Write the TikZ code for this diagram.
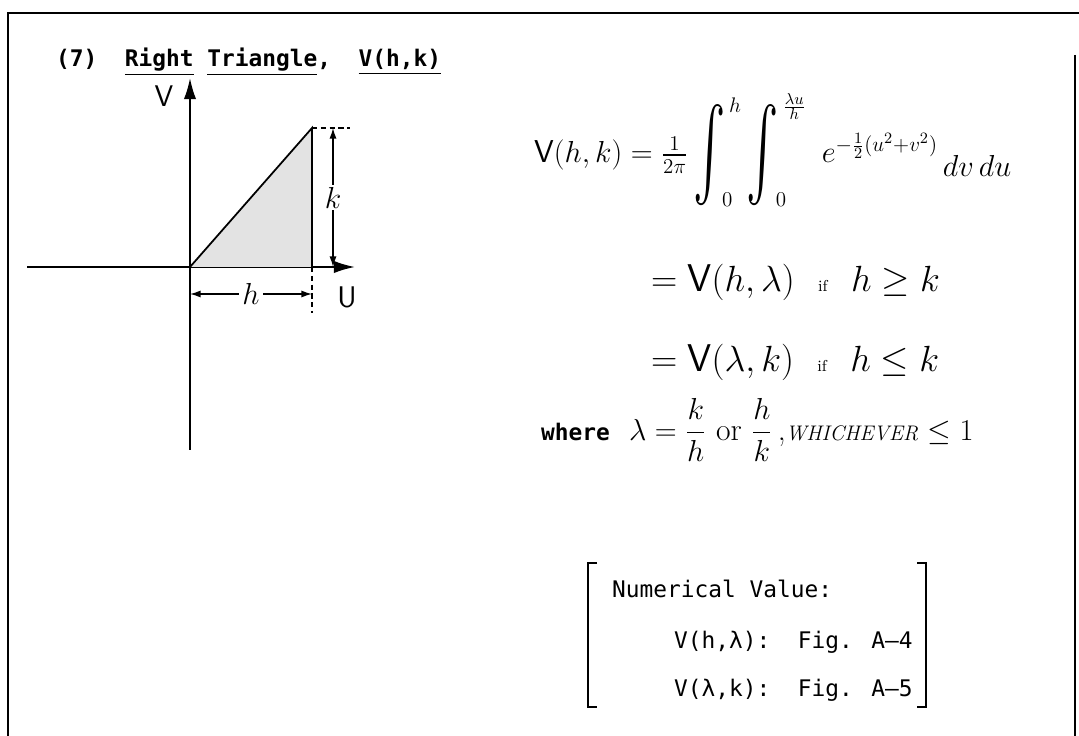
\documentclass[tikz,border=0pt]{standalone}
\usepackage{amsmath}
\usepackage{graphicx}
\usepackage{fontspec}
\newfontfamily\typefont{DejaVu Sans Mono}
\usetikzlibrary{arrows.meta}
\newcommand{\tallint}{\mathop{\vcenter{\hbox{\scalebox{1.6}[3.0]{$\int$}}}}\nolimits}
\begin{document}
\begin{tikzpicture}[x=0.02cm,y=-0.02cm,
  frame/.style={line width=1.6pt},
  axis/.style={line width=1.1pt,-{Latex[length=12pt,width=7pt]}},
  dim/.style={line width=0.8pt,{Latex[length=6pt,width=4pt]}-{Latex[length=6pt,width=4pt]}},
  tick/.style={line width=0.8pt,dash pattern=on 3pt off 2pt},
  tw/.style={font=\typefont\bfseries\fontsize{13}{15}\selectfont},
  tbox/.style={font=\typefont\fontsize{13}{15}\selectfont},
  hand/.style={font=\fontsize{22}{26}\selectfont}]
\useasboundingbox (0,0) rectangle (1079,736);
% frame
\draw[frame] (8,736) -- (8,13) -- (1079,13);
\draw[frame] (1075,55) -- (1075,736);
% title
\node[tw,anchor=base west] (title) at (50,67) {(7)\ \ \underline{Right} \underline{Triangle},\ \ \underline{V(h,k)}};
% axes
\coordinate (O) at (190,267);
\coordinate (top) at (312,128);
\coordinate (foot) at (312,267);
\draw[axis] (27,267) -- (355,267);
\draw[axis] (190,450) -- (190,78);
\node[font=\sffamily\fontsize{17}{20}\selectfont] (vlab) at (164,96) {V};
\node[font=\sffamily\fontsize{17}{20}\selectfont] (ulab) at (347,297) {U};
% triangle
\fill[gray!22] (O) -- (top) -- (foot) -- cycle;
\draw[line width=1pt] (O) -- (top) -- (foot);
\draw[tick] (top) -- (350,128);
\draw[tick] (foot) -- (312,313);
% dimensions
\draw[dim] (333,128) -- (333,267) node[midway,fill=white,inner sep=1pt,font=\fontsize{18}{20}\selectfont] (klab) {$k$};
\draw[dim] (190,294) -- (312,294) node[midway,fill=white,inner sep=2pt,font=\fontsize{18}{20}\selectfont] (hlab) {$h$};
% main formula
\node[anchor=west,font=\fontsize{18}{22}\selectfont] (eqmain) at (528,150)
  {$\mathsf{V}(h,k)=\tfrac{1}{2\pi}\tallint_{\!0}^{\,h}\tallint_{\!0}^{\,\frac{\lambda u}{h}}\,\, e^{-\frac12(u^2+v^2)}\,\raisebox{-8pt}{$dv\,du$}$};
% cases
\node[hand,anchor=west] (eqa) at (645,282) {$=\mathsf{V}(h,\lambda)$\ \ {\small if}\ \ $h\ge k$};
\node[hand,anchor=west] (eqb) at (645,362) {$=\mathsf{V}(\lambda,k)$\ \ {\small if}\ \ $h\le k$};
\node[anchor=west,font=\fontsize{18}{22}\selectfont] (where) at (535,430) {{\typefont\bfseries\fontsize{13}{15}\selectfont where}\ \ $\lambda=\dfrac{k}{h}$ or $\dfrac{h}{k}$\,,\textit{\fontsize{12}{14}\selectfont WHICHEVER} $\le 1$};
% numerical value box
\draw[line width=1.2pt] (597,563) -- (588,563) -- (588,707) -- (597,707);
\draw[line width=1.2pt] (917,563) -- (926,563) -- (926,707) -- (917,707);
\node[tbox,anchor=base west] (numval) at (606,598) {Numerical Value:};
\node[tbox,anchor=base west] (figa) at (668,648) {V(h,λ):\ \ Fig. A–4};
\node[tbox,anchor=base west] (figb) at (668,696) {V(λ,k):\ \ Fig. A–5};
\end{tikzpicture}
\end{document}
